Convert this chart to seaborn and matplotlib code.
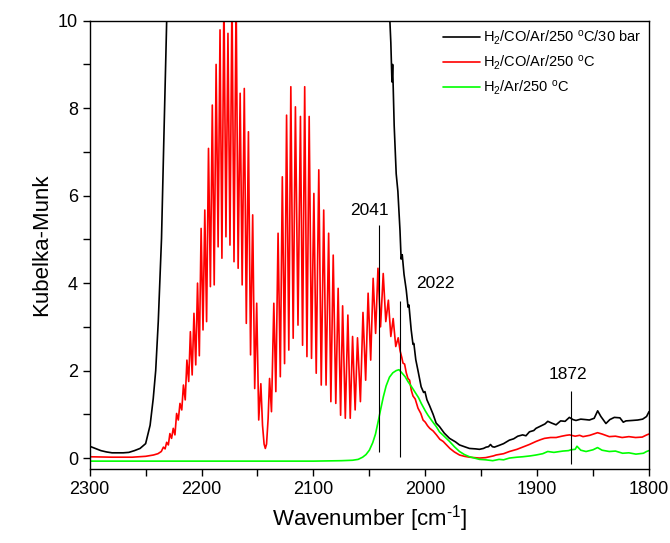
import numpy as np
import pandas as pd
import seaborn as sns
import matplotlib.pyplot as plt
from matplotlib.ticker import MultipleLocator

# spectra (wavenumber in cm-1, Kubelka-Munk units)
black_wn = [2300, 2295, 2290, 2285, 2280, 2275, 2270, 2265, 2260, 2255, 2250, 2246, 2243.2, 2241,
            2238.7, 2235.8, 2233.7, 2231.9, 2231.0, 2229, 2200, 2100, 2040, 2034,
            2032.0, 2030.8, 2029.8, 2029.2, 2027.8, 2026.0, 2024.5, 2022.6, 2021.6, 2020.6,
            2019.0, 2017.0, 2015.4, 2014.6, 2012.6, 2011.0, 2010.2, 2008.5, 2006.6, 2003.7,
            2001.5, 2000.3, 1998.5, 1996.2, 1993, 1990.3, 1987.3, 1983, 1978.3, 1973,
            1969.4, 1965, 1960.5, 1955, 1951.6, 1948, 1945.6, 1943.5, 1941.7, 1940,
            1938.2, 1934, 1930, 1924.8, 1921, 1917.3, 1913, 1910, 1906.9, 1903,
            1901.0, 1897, 1893, 1890.5, 1887, 1883.1, 1879, 1875, 1871.2, 1868,
            1865.3, 1861, 1857, 1853.3, 1849, 1845.9, 1843, 1838.5, 1835, 1831.0,
            1826, 1823, 1820.6, 1815, 1810, 1805.7, 1802.2, 1800]
black_km = [0.27, 0.22, 0.17, 0.14, 0.12, 0.12, 0.12, 0.13, 0.17, 0.22, 0.33, 0.75, 1.36, 2.0,
            3.12, 5.02, 7.31, 9.22, 10.2, 12, 15, 15, 14, 11,
            10.2, 9.5, 8.6, 9.0, 7.6, 6.5, 6.1, 5.2, 4.55, 4.65,
            4.2, 3.84, 3.45, 3.5, 2.93, 2.6, 2.62, 2.25, 2.01, 1.63,
            1.5, 1.52, 1.33, 1.2, 1.0, 0.8, 0.72, 0.57, 0.45, 0.37,
            0.30, 0.26, 0.22, 0.21, 0.20, 0.22, 0.25, 0.26, 0.31, 0.26,
            0.25, 0.29, 0.33, 0.41, 0.44, 0.50, 0.53, 0.51, 0.60, 0.63,
            0.68, 0.73, 0.78, 0.84, 0.80, 0.76, 0.85, 0.84, 0.93, 0.88,
            0.86, 0.89, 0.88, 0.87, 0.91, 1.08, 0.95, 0.79, 0.88, 0.93,
            0.92, 0.82, 0.85, 0.86, 0.87, 0.89, 0.95, 1.06]

red_wn = [2300, 2280, 2262, 2250, 2243, 2239, 2236, 2234.1, 2232.6, 2231.2, 2229.7, 2228.3,
          2226.8, 2225.3, 2223.8, 2222.3, 2220.8, 2219.3, 2217.7, 2216.2, 2214.6, 2213.1,
          2211.5, 2210.0, 2208.4, 2206.8, 2205.2, 2203.6, 2202.0, 2200.4, 2198.7, 2197.1,
          2195.5, 2193.8, 2192.1, 2190.4, 2188.7, 2187.0, 2185.2, 2183.5, 2181.8, 2180.0,
          2178.2, 2176.4, 2174.6, 2172.8, 2171.0, 2169.1, 2167.3, 2165.5, 2163.7, 2161.8,
          2160.0, 2158.1, 2156.2, 2154.3, 2152.5, 2150.7, 2148.9, 2147.0, 2145.5, 2144.1,
          2143.0, 2141.9, 2140.5, 2139.2, 2137.5, 2135.4, 2133.6, 2131.6, 2129.6, 2127.8,
          2125.8, 2124.0, 2122.0, 2120.2, 2118.1, 2116.1, 2113.8, 2111.6, 2109.7, 2107.8,
          2105.8, 2103.8, 2101.7, 2099.6, 2097.5, 2095.2, 2093.0, 2090.8, 2088.7, 2086.4,
          2084.4, 2082.3, 2080.0, 2077.9, 2075.7, 2073.9, 2071.5, 2069.2, 2067.1, 2065.0,
          2062.7, 2060.6, 2058.0, 2055.7, 2053.3, 2051.1, 2048.8, 2046.6, 2044.4, 2042.3,
          2040.0, 2037.6, 2035.3, 2033.0, 2030.8, 2028.7, 2026.4, 2024.2, 2022.5, 2021,
          2019.9, 2018.5, 2017, 2015.5, 2014, 2012.5, 2011, 2009, 2006.5, 2004,
          2002, 2000, 1998, 1996, 1993, 1990, 1987, 1984, 1981, 1978,
          1974, 1969.4, 1965, 1960.5, 1956, 1951.6, 1946, 1942.6, 1939, 1936.7,
          1930, 1924.8, 1918, 1912.9, 1907, 1901, 1897, 1893.5, 1888, 1883,
          1878, 1874, 1871, 1866, 1862, 1859, 1853, 1846, 1842, 1835.5,
          1830, 1824, 1818, 1812, 1806, 1802, 1800]
red_km = [0.03, 0.02, 0.02, 0.04, 0.07, 0.10, 0.15, 0.25, 0.21, 0.36, 0.30, 0.56,
          0.45, 0.68, 0.53, 1.02, 0.87, 1.25, 1.10, 1.67, 1.33, 2.24,
          1.75, 2.89, 1.90, 3.31, 2.13, 4.00, 2.34, 5.25, 2.93, 5.67,
          3.12, 7.08, 3.92, 8.07, 3.96, 9.00, 4.83, 9.79, 4.57, 10.6,
          5.06, 9.71, 4.87, 10.6, 4.49, 10.6, 4.34, 8.34, 3.96, 8.45,
          3.08, 7.46, 2.36, 5.56, 1.59, 3.54, 0.87, 1.70, 0.75, 0.32,
          0.22, 0.32, 0.90, 1.82, 1.06, 3.54, 1.52, 5.14, 1.86, 6.43,
          2.16, 7.84, 2.47, 8.49, 2.74, 8.03, 3.04, 7.81, 2.58, 8.49,
          2.32, 7.81, 2.28, 6.05, 1.94, 6.59, 1.67, 5.67, 1.67, 5.14,
          1.29, 4.64, 1.25, 3.88, 0.98, 3.48, 0.91, 3.27, 0.91, 2.78,
          1.10, 2.75, 1.29, 3.33, 1.78, 3.77, 2.24, 4.11, 2.85, 4.34,
          3.00, 4.22, 3.12, 3.61, 2.78, 3.19, 2.55, 2.75, 2.45, 2.30,
          2.17, 2.15, 1.95, 1.82, 1.78, 1.55, 1.42, 1.35, 1.14, 1.02,
          0.87, 0.82, 0.74, 0.68, 0.62, 0.53, 0.43, 0.38, 0.30, 0.22,
          0.14, 0.07, 0.04, 0.02, 0.01, 0.00, 0.01, 0.03, 0.05, 0.07,
          0.10, 0.15, 0.20, 0.25, 0.31, 0.38, 0.42, 0.45, 0.47, 0.47,
          0.50, 0.52, 0.53, 0.50, 0.52, 0.49, 0.52, 0.58, 0.55, 0.49,
          0.50, 0.47, 0.49, 0.47, 0.48, 0.53, 0.55]

green_wn = [2300, 2250, 2200, 2150, 2100, 2075, 2065, 2060, 2056, 2053, 2050, 2047,
            2044.5, 2042, 2040, 2037.5, 2035, 2032, 2029, 2026, 2023.5, 2021,
            2018, 2015.5, 2012, 2009.5, 2006, 2003.6, 2000, 1997.6, 1994, 1990.2,
            1987.3, 1984, 1978.3, 1974, 1969.4, 1965, 1960.5, 1956, 1951.6, 1946,
            1939.7, 1934, 1930, 1924.8, 1918, 1912.9, 1906, 1901, 1895, 1890.5,
            1885, 1877, 1872, 1869.7, 1866, 1864.4, 1861, 1856.3, 1850, 1846,
            1842, 1835.5, 1830, 1823.6, 1818, 1811.7, 1805, 1802.2, 1800]
green_km = [-0.07, -0.07, -0.07, -0.07, -0.07, -0.06, -0.05, -0.03, 0.02, 0.08, 0.18, 0.35,
            0.55, 0.85, 1.10, 1.40, 1.65, 1.85, 1.95, 2.00, 2.02, 1.95,
            1.86, 1.75, 1.62, 1.52, 1.38, 1.25, 1.08, 0.98, 0.85, 0.72,
            0.60, 0.52, 0.38, 0.26, 0.15, 0.08, 0.03, 0.00, -0.03, -0.04,
            -0.06, -0.03, -0.04, 0.00, 0.02, 0.03, 0.05, 0.07, 0.10, 0.15,
            0.13, 0.16, 0.17, 0.19, 0.20, 0.27, 0.18, 0.15, 0.19, 0.24,
            0.18, 0.15, 0.16, 0.11, 0.12, 0.09, 0.11, 0.15, 0.17]

series_labels = [r'H$_2$/CO/Ar/250 $^{\mathrm{o}}$C/30 bar',
                 r'H$_2$/CO/Ar/250 $^{\mathrm{o}}$C',
                 r'H$_2$/Ar/250 $^{\mathrm{o}}$C']

# marked band positions
mark_labels = ['2041', '2022', '1872']
mark_wn = [2041, 2022.5, 1870]
mark_lo = [0.15, 0.03, -0.14]
mark_hi = [5.33, 3.6, 1.54]

sns.set_theme(style='ticks')
plt.rcParams['font.family'] = ['Liberation Sans', 'DejaVu Sans']
plt.rcParams['mathtext.fontset'] = 'custom'
plt.rcParams['mathtext.rm'] = 'Liberation Sans'
plt.rcParams['mathtext.it'] = 'Liberation Sans:italic'
plt.rcParams['text.color'] = 'black'
plt.rcParams['axes.labelcolor'] = 'black'

fig = plt.figure(figsize=(6.7, 5.43), dpi=100)
ax = fig.add_axes([89.7 / 670, 1 - 469 / 543, (649 - 89.7) / 670, (469 - 20.7) / 543])

for wn, km, col, lab in [(black_wn, black_km, 'black', series_labels[0]),
                         (red_wn, red_km, '#ff0000', series_labels[1]),
                         (green_wn, green_km, '#00ff00', series_labels[2])]:
    df = pd.DataFrame({'wn': wn, 'km': km})
    sns.lineplot(data=df, x='wn', y='km', color=col, lw=1.2, ax=ax, label=lab,
                 estimator=None, sort=False)

ax.vlines(mark_wn, mark_lo, mark_hi, color='black', lw=0.8)
ax.text(2049.5, 5.66, mark_labels[0], fontsize=12.5, ha='center', va='center')
ax.text(1990.8, 4.0, mark_labels[1], fontsize=12.5, ha='center', va='center')
ax.text(1872.7, 1.90, mark_labels[2], fontsize=12.5, ha='center', va='center')

ax.set_xlim(2300, 1800)
ax.set_ylim(-0.25, 10)
ax.xaxis.set_major_locator(MultipleLocator(100))
ax.xaxis.set_minor_locator(MultipleLocator(50))
ax.yaxis.set_major_locator(MultipleLocator(2))
ax.yaxis.set_minor_locator(MultipleLocator(1))
ax.tick_params(which='both', direction='out', length=5, width=1, color='black',
               labelsize=13, labelcolor='black', top=False, right=False)
for s in ax.spines.values():
    s.set_color('black')
    s.set_linewidth(1.0)

ax.set_xlabel('Wavenumber [cm$^{\\mathrm{\u2010}1}$]', fontsize=16)
ax.set_ylabel('Kubelka-Munk', fontsize=16)

ax.legend(loc='upper right', frameon=False, fontsize=10.5, handlelength=2.5,
          handletextpad=0.2, labelspacing=0.45, borderaxespad=0.15)

fig.savefig('out.png', dpi=100)
